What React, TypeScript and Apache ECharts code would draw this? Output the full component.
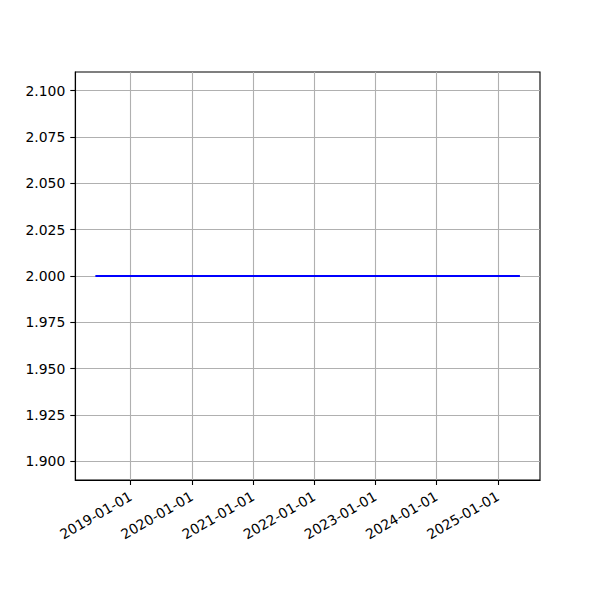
import React, { useEffect, useRef } from "react";
import * as echarts from "echarts";

const dates = ["2018-06-10", "2025-05-07"];
const values = [2, 2];
const yTickValues = [1.9, 1.925, 1.95, 1.975, 2.0, 2.025, 2.05, 2.075, 2.1];
const xTickLabels = [
  "2019-01-01",
  "2020-01-01",
  "2021-01-01",
  "2022-01-01",
  "2023-01-01",
  "2024-01-01",
  "2025-01-01",
];
const yMin = 1.89;
const yMax = 2.11;

export default function App() {
  const ref = useRef<HTMLDivElement>(null);
  useEffect(() => {
    if (!ref.current) return;
    const chart = echarts.init(ref.current, null, { renderer: "svg" });
    const DAY = 86400000;
    const toDays = (d: string) => new Date(d + "T00:00:00Z").getTime() / DAY;
    const ts = dates.map(toDays);
    const span = ts[ts.length - 1] - ts[0];
    const xMin = ts[0] - 0.05 * span;
    const xMax = ts[ts.length - 1] + 0.05 * span;
    const xTicks = xTickLabels.map(toDays);
    const fmtDate = (v: number) => {
      const d = new Date(Math.round(v) * DAY);
      const p = (n: number) => (n < 10 ? "0" + n : "" + n);
      return d.getUTCFullYear() + "-" + p(d.getUTCMonth() + 1) + "-" + p(d.getUTCDate());
    };
    const font = "DejaVu Sans";
    chart.setOption({
      animation: false,
      backgroundColor: "#ffffff",
      grid: {
        left: 75.3,
        right: 60,
        top: 72,
        bottom: 120,
        show: true,
        borderColor: "#000000",
        borderWidth: 1.1,
        backgroundColor: "transparent",
      },
      xAxis: {
        type: "value",
        min: xMin,
        max: xMax,
        axisLine: { show: true, lineStyle: { color: "#000", width: 1.1 } },
        axisTick: {
          show: true,
          customValues: xTicks,
          length: 5,
          lineStyle: { color: "#000", width: 1.1 },
        },
        axisLabel: {
          customValues: xTicks,
          rotate: 30,
          margin: 15,
          color: "#000",
          fontFamily: font,
          fontSize: 13.9,
          formatter: (v: number) => fmtDate(v),
        },
        splitLine: { show: true, lineStyle: { color: "#b0b0b0", width: 1.1 } },
      },
      yAxis: {
        type: "value",
        min: yMin,
        max: yMax,
        axisLine: { show: true, lineStyle: { color: "#000", width: 1.1 } },
        axisTick: {
          show: true,
          customValues: yTickValues,
          length: 5,
          lineStyle: { color: "#000", width: 1.1 },
        },
        axisLabel: {
          customValues: yTickValues,
          margin: 10,
          color: "#000",
          fontFamily: font,
          fontSize: 13.9,
          formatter: (v: number) => v.toFixed(3),
        },
        splitLine: { show: true, lineStyle: { color: "#b0b0b0", width: 1.1 } },
      },
      series: [
        {
          type: "line",
          data: ts.map((t, i) => [t, values[i]]),
          showSymbol: false,
          symbol: "none",
          lineStyle: { color: "#0000ff", width: 2.08, cap: "square" },
          z: 5,
        },
      ],
    });
    return () => chart.dispose();
  }, []);
  return <div ref={ref} style={{ width: 600, height: 600, margin: -8 }} />;
}
